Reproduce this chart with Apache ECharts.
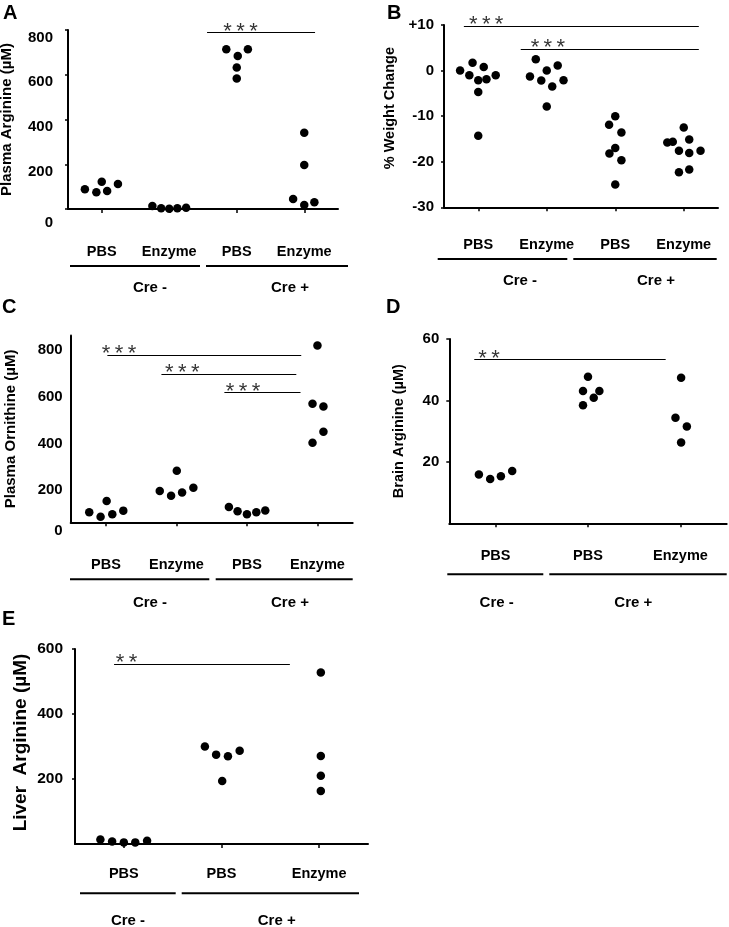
<!DOCTYPE html>
<html><head><meta charset="utf-8">
<script src="https://cdn.jsdelivr.net/npm/echarts@6/dist/echarts.min.js"></script>
<style>html,body{margin:0;padding:0;background:#fff}#c{width:729px;height:927px}</style>
</head><body><div id="c"></div>
<script>
const FONT = '"Liberation Sans", Arial, Helvetica, sans-serif';
const S3 = '*\u2009*\u2009*';
const S2 = '*\u2009*';

// ---------- Panel A : Plasma Arginine ----------
const aCategories = ['PBS', 'Enzyme', 'PBS', 'Enzyme'];
const aGroupLabels = ['Cre -', 'Cre +'];
const aPbsMinus = [88, 75, 122, 80, 112];
const aPbsMinusJit = [-0.25, -0.08, 0, 0.08, 0.24];
const aEnzMinus = [13, 3, 1, 3, 6];
const aEnzMinusJit = [-0.25, -0.12, 0, 0.12, 0.25];
const aPbsPlus = [714, 714, 684, 632, 583];
const aPbsPlusJit = [-0.155, 0.165, 0.015, 0, 0];
const aEnzPlus = [341, 197, 45, 18, 30];
const aEnzPlusJit = [0, 0, -0.165, 0, 0.15];
const aSigBars = [[1.56, 3.16, 788]];
const aSigStars = [[1.80, 788, S3]];

// ---------- Panel B : % Weight Change ----------
const bCategories = ['PBS', 'Enzyme', 'PBS', 'Enzyme'];
const bGroupLabels = ['Cre -', 'Cre +'];
const bPbsMinus = [0, -1.0, 1.7, -2.1, -4.7, -14.3, 0.8, -1.9, -1.0];
const bPbsMinusJit = [-0.265, -0.13, -0.083, 0, 0, 0, 0.08, 0.12, 0.255];
const bEnzMinus = [-1.3, 2.5, -2.2, 0.0, -7.9, -3.5, 1.1, -2.1];
const bEnzMinusJit = [-0.245, -0.16, -0.08, 0, 0, 0.08, 0.16, 0.245];
const bPbsPlus = [-10.0, -11.9, -13.6, -17.0, -18.2, -19.7, -25.0];
const bPbsPlusJit = [0, -0.09, 0.09, 0, -0.085, 0.09, 0];
const bEnzPlus = [-15.8, -15.6, -12.5, -15.1, -17.6, -18.1, -17.6, -22.3, -21.7];
const bEnzPlusJit = [-0.24, -0.16, 0, 0.08, -0.07, 0.08, 0.245, -0.07, 0.08];
const bSigBars = [[-0.21, 3.22, 9.8], [0.62, 3.22, 4.7]];
const bSigStars = [[-0.136, 9.8, S3], [0.765, 4.7, S3]];

// ---------- Panel C : Plasma Ornithine ----------
const cCategories = ['PBS', 'Enzyme', 'PBS', 'Enzyme'];
const cGroupLabels = ['Cre -', 'Cre +'];
const cPbsMinus = [43, 24, 91, 34, 50];
const cPbsMinusJit = [-0.237, -0.076, 0.01, 0.09, 0.246];
const cEnzMinus = [134, 114, 221, 128, 148];
const cEnzMinusJit = [-0.237, -0.076, 0.005, 0.08, 0.24];
const cPbsPlus = [66, 47, 34, 43, 51];
const cPbsPlusJit = [-0.256, -0.133, 0, 0.133, 0.26];
const cEnzPlus = [757, 508, 496, 388, 341];
const cEnzPlusJit = [0, -0.07, 0.085, 0.085, -0.07];
const cSigBars = [[0.02, 2.77, 716], [0.787, 2.70, 635], [1.68, 2.76, 556]];
const cSigStars = [[-0.06, 716, S3], [0.837, 635, S3], [1.70, 556, S3]];

// ---------- Panel D : Brain Arginine ----------
const dCategories = ['PBS', 'PBS', 'Enzyme'];
const dGroupLabels = ['Cre -', 'Cre +'];
const dPbsMinus = [15.9, 14.4, 15.3, 17.0];
const dPbsMinusJit = [-0.18, -0.058, 0.058, 0.18];
const dPbsPlus = [47.7, 43.1, 43.1, 40.9, 38.4];
const dPbsPlusJit = [0, -0.054, 0.123, 0.062, -0.054];
const dEnzPlus = [47.4, 34.4, 31.5, 26.3];
const dEnzPlusJit = [0.007, -0.054, 0.069, 0.007];
const dSigBars = [[-0.23, 1.84, 53.3]];
const dSigStars = [[-0.186, 53.3, S2]];

// ---------- Panel E : Liver Arginine ----------
const eCategories = ['PBS', 'PBS', 'Enzyme'];
const eGroupLabels = ['Cre -', 'Cre +'];
const ePbsMinus = [14, 8, 5, 5, 10];
const ePbsMinusJit = [-0.24, -0.12, 0, 0.117, 0.238];
const ePbsPlus = [300, 275, 270, 287, 194];
const ePbsPlusJit = [-0.17, -0.055, 0.066, 0.186, 0.007];
const eEnzPlus = [528, 271, 210, 163];
const eEnzPlusJit = [0.017, 0.017, 0.017, 0.017];
const eSigBars = [[-0.1, 1.70, 554]];
const eSigStars = [[-0.083, 554, S2]];

// ---------- layout (pixels) ----------
const panels = [
  { letter: 'A', lx: 3, ly: 3, grid: { left: 68, top: 30, width: 270, height: 179 },
    cats: aCategories, yMin: 0, yMax: 800, interval: 200, yName: 'Plasma Arginine (µM)',
    nameGap: 54, nameSize: 15, namePad: 0, yLabSize: 15, yLabMargin: 15, yTicks: true, labelsLow: true, padN: 0, padZ: 6, showMin: true,
    xLabMargin: 35, fmt: null,
    groups: [[aPbsMinus, aPbsMinusJit, 0], [aEnzMinus, aEnzMinusJit, 1], [aPbsPlus, aPbsPlusJit, 2], [aEnzPlus, aEnzPlusJit, 3]],
    bars: aSigBars, stars: aSigStars,
    glines: [[70, 200, 266], [206, 348, 266]], glabels: [[aGroupLabels[0], 150, 288], [aGroupLabels[1], 290, 288]] },
  { letter: 'B', lx: 387, ly: 3, grid: { left: 444, top: 25, width: 274, height: 182.3 },
    cats: bCategories, yMin: -30, yMax: 10, interval: 10, yName: '% Weight Change',
    nameGap: 47, nameSize: 14.5, namePad: 16, yLabSize: 15, yLabMargin: 10, yTicks: true, labelsLow: false, padN: 0, padZ: 0, showMin: true,
    xLabMargin: 30, fmt: v => (v > 0 ? '+' + v : String(v)),
    groups: [[bPbsMinus, bPbsMinusJit, 0], [bEnzMinus, bEnzMinusJit, 1], [bPbsPlus, bPbsPlusJit, 2], [bEnzPlus, bEnzPlusJit, 3]],
    bars: bSigBars, stars: bSigStars,
    glines: [[437.7, 567.3, 259], [573.3, 716.7, 259]], glabels: [[bGroupLabels[0], 520, 281], [bGroupLabels[1], 656, 281]] },
  { letter: 'C', lx: 2, ly: 297, grid: { left: 70.7, top: 335.5, width: 282, height: 186.8 },
    cats: cCategories, yMin: 0, yMax: 800, interval: 200, yName: 'Plasma Ornithine (µM)',
    nameGap: 52, nameSize: 15, namePad: 0, yLabSize: 15, yLabMargin: 8, yTicks: false, labelsLow: true, padN: 7, padZ: 1, showMin: true,
    xLabMargin: 35, fmt: null,
    groups: [[cPbsMinus, cPbsMinusJit, 0], [cEnzMinus, cEnzMinusJit, 1], [cPbsPlus, cPbsPlusJit, 2], [cEnzPlus, cEnzPlusJit, 3]],
    bars: cSigBars, stars: cSigStars,
    glines: [[70, 209.3, 579.3], [215.7, 352.7, 579.3]], glabels: [[cGroupLabels[0], 150, 602.5], [cGroupLabels[1], 290, 602.5]] },
  { letter: 'D', lx: 386, ly: 297, grid: { left: 449.3, top: 339, width: 277.4, height: 184.3 },
    cats: dCategories, yMin: 0, yMax: 60, interval: 20, yName: 'Brain Arginine (µM)',
    nameGap: 43, nameSize: 14.5, namePad: 0, yLabSize: 15, yLabMargin: 10, yTicks: true, labelsLow: false, padN: 0, padZ: 0, showMin: false,
    xLabMargin: 25.5, fmt: null,
    groups: [[dPbsMinus, dPbsMinusJit, 0], [dPbsPlus, dPbsPlusJit, 1], [dEnzPlus, dEnzPlusJit, 2]],
    bars: dSigBars, stars: dSigStars,
    glines: [[447.3, 543.3, 574.3], [549.3, 726.7, 574.3]], glabels: [[dGroupLabels[0], 496.7, 602.5], [dGroupLabels[1], 633.3, 602.5]] },
  { letter: 'E', lx: 2, ly: 609, grid: { left: 75, top: 649, width: 293, height: 195 },
    cats: eCategories, yMin: 0, yMax: 600, interval: 200, yName: 'Liver  Arginine (µM)',
    nameGap: 45, nameSize: 19, namePad: 8, yLabSize: 15.5, yLabMargin: 12, yTicks: true, labelsLow: false, padN: 0, padZ: 0, showMin: false,
    xLabMargin: 22.5, fmt: null,
    groups: [[ePbsMinus, ePbsMinusJit, 0], [ePbsPlus, ePbsPlusJit, 1], [eEnzPlus, eEnzPlusJit, 2]],
    bars: eSigBars, stars: eSigStars,
    glines: [[80, 175.7, 893.3], [181.7, 359, 893.3]], glabels: [[eGroupLabels[0], 128, 921], [eGroupLabels[1], 276.7, 921]] }
];

const grids = [], xAxes = [], yAxes = [], series = [], graphics = [];
panels.forEach((p, i) => {
  grids.push(Object.assign({ containLabel: false, outerBoundsMode: 'none' }, p.grid));
  const idx = p.cats.map((_, k) => k);
  xAxes.push({
    type: 'value', gridIndex: i, min: -0.5, max: p.cats.length - 0.5,
    splitLine: { show: false },
    axisLine: { show: true, onZero: false, lineStyle: { color: '#000', width: 2 } },
    axisTick: { show: true, customValues: idx, length: 4, lineStyle: { color: '#000', width: 1.5 } },
    axisLabel: { show: true, customValues: idx, formatter: v => p.cats[Math.round(v)],
      margin: p.xLabMargin, color: '#000', fontWeight: 'bold', fontSize: 14.5, fontFamily: FONT }
  });
  const richBase = { fontWeight: 'bold', fontSize: p.yLabSize, fontFamily: FONT, color: '#000' };
  yAxes.push({
    type: 'value', gridIndex: i, min: p.yMin, max: p.yMax, interval: p.interval,
    splitLine: { show: false },
    axisLine: { show: true, onZero: false, lineStyle: { color: '#000', width: 2 } },
    axisTick: { show: p.yTicks, length: 3, lineStyle: { color: '#000', width: 1.5 } },
    axisLabel: {
      show: true, showMinLabel: p.showMin, margin: p.yLabMargin, color: '#000',
      fontWeight: 'bold', fontSize: p.yLabSize, fontFamily: FONT,
      verticalAlign: p.labelsLow ? 'top' : 'middle',
      formatter: v => {
        const s = p.fmt ? p.fmt(v) : String(v);
        if (!p.labelsLow) return s;
        return (v === 0 ? '{z|' : '{n|') + s + '}';
      },
      rich: {
        z: Object.assign({ padding: [p.padZ, 0, 0, 0] }, richBase),
        n: Object.assign({ padding: [p.padN, 0, 0, 0] }, richBase)
      }
    },
    name: p.yName, nameLocation: 'middle', nameGap: p.nameGap,
    nameTextStyle: { color: '#000', fontWeight: 'bold', fontSize: p.nameSize, fontFamily: FONT,
      padding: p.namePad ? [0, 0, 0, p.namePad] : 0 }
  });
  const pts = [];
  p.groups.forEach(([vals, jit, c]) => vals.forEach((v, k) => pts.push([c + jit[k], v])));
  series.push({
    type: 'scatter', xAxisIndex: i, yAxisIndex: i, data: pts, symbolSize: 8.5, clip: false,
    itemStyle: { color: '#000', opacity: 1 },
    markLine: {
      silent: true, symbol: ['none', 'none'], label: { show: false },
      lineStyle: { color: '#000', width: 1, type: 'solid' },
      data: p.bars.map(b => [{ coord: [b[0], b[2]] }, { coord: [b[1], b[2]] }])
    }
  });
  series.push({
    type: 'scatter', xAxisIndex: i, yAxisIndex: i, symbolSize: 0, clip: false, silent: true,
    data: p.stars.map(s => ({ value: [s[0], s[1]], name: s[2] })),
    label: { show: true, position: 'right', distance: 0, offset: [0, -1], formatter: d => d.name,
      color: '#000', fontSize: 22, fontFamily: FONT, fontWeight: 'normal', align: 'left', verticalAlign: 'middle' }
  });
  graphics.push({ type: 'text', left: p.lx, top: p.ly,
    style: { text: p.letter, font: 'bold 20px ' + FONT, fill: '#000' } });
  p.glines.forEach(g => graphics.push({ type: 'line', shape: { x1: g[0], y1: g[2], x2: g[1], y2: g[2] },
    style: { stroke: '#000', lineWidth: 2 } }));
  p.glabels.forEach(g => graphics.push({ type: 'text', x: g[1], y: g[2],
    style: { text: g[0], font: 'bold 15px ' + FONT, fill: '#000', align: 'center', verticalAlign: 'middle',
      textAlign: 'center', textVerticalAlign: 'middle' } }));
});

const chart = echarts.init(document.getElementById('c'), null, { renderer: 'canvas' });
chart.setOption({
  animation: false, backgroundColor: '#fff',
  grid: grids, xAxis: xAxes, yAxis: yAxes, series: series, graphic: graphics
});
</script></body></html>
